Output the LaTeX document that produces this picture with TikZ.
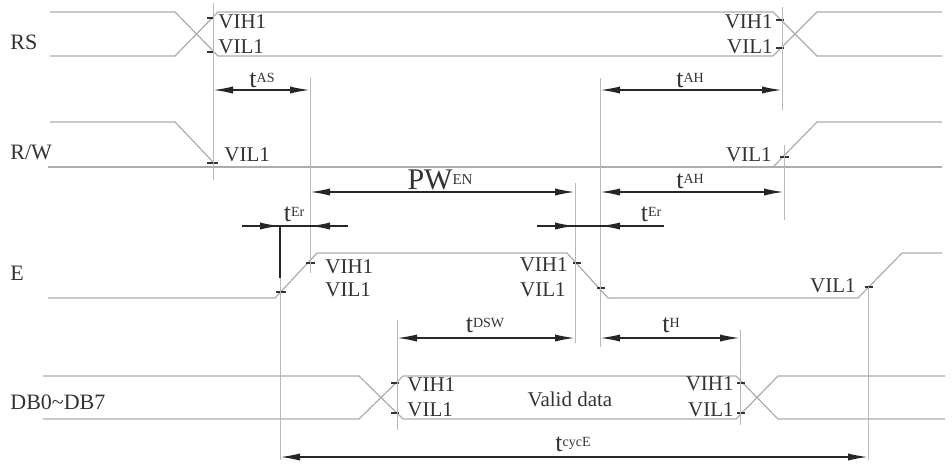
\documentclass[tikz,border=0pt]{standalone}
\usepackage{fontspec}
\setmainfont{Liberation Serif}
\usetikzlibrary{arrows.meta}

\tikzset{
  sig/.style={gray!65, line width=0.6pt},
  guide/.style={gray!55, line width=0.5pt},
  tick/.style={black!80, line width=0.6pt},
  dim/.style={black!85, line width=0.8pt},
  tip/.style={-{Latex[length=10pt,width=3.6pt]}},
  dimboth/.style={dim, {Latex[length=10pt,width=3.6pt]}-{Latex[length=10pt,width=3.6pt]}},
  lvl/.style={font=\fontsize{10.5}{11}\selectfont, text=black!80, inner sep=0pt},
  sname/.style={font=\fontsize{11}{12}\selectfont, text=black!80, inner sep=0pt, anchor=west},
}
\newcommand\tsym[1]{{\fontsize{13}{13}\selectfont t}{\fontsize{7}{7}\selectfont\raisebox{0.7ex}{#1}}}

\begin{document}
\begin{tikzpicture}[x=0.5pt,y=-0.5pt]
\useasboundingbox (0,0) rectangle (952,472);
%% signal names
\node[sname] (nRS) at (10,42) {RS};
\node[sname] (nRW) at (10,152) {R/W};
\node[sname] (nE) at (10,273) {E};
\node[sname] (nDB) at (10,402) {DB0\textasciitilde DB7};

%% RS
\draw[sig] (50,12) -- (175,12) -- (218,56) -- (773,56) -- (817,12) -- (942,12);
\draw[sig] (50,56) -- (175,56) -- (218,12) -- (773,12) -- (817,56) -- (942,56);
\draw[tick] (207,18) -- (214,18);
\draw[tick] (207,52) -- (214,52);
\draw[tick] (776,20) -- (784,20);
\draw[tick] (776,48) -- (784,48);
\node[lvl,anchor=west] (rsh1) at (218,22) {VIH1};
\node[lvl,anchor=west] (rsl1) at (218,47) {VIL1};
\node[lvl,anchor=east] (rsh2) at (773,22) {VIH1};
\node[lvl,anchor=east] (rsl2) at (773,47) {VIL1};

%% R/W
\draw[sig] (50,122) -- (175,122) -- (213,162);
\draw[sig] (48,167) -- (942,167);
\draw[sig] (773,167) -- (817,122) -- (942,122);
\draw[tick] (207,163) -- (218,163);
\draw[tick] (780,157) -- (789,157);
\node[lvl,anchor=west] (rwl1) at (224,155) {VIL1};
\node[lvl,anchor=east] (rwl2) at (772,155) {VIL1};

%% E
\draw[sig] (48,298) -- (275,298) -- (317,253) -- (567,253) -- (608,298) -- (858,298) -- (902,253) -- (942,253);
\draw[tick] (276,292) -- (286,292);
\draw[tick] (306,263) -- (315,263);
\draw[tick] (573,263) -- (581,263);
\draw[tick] (597,288) -- (605,288);
\draw[tick] (865,287) -- (873,287);
\node[lvl,anchor=west] (eh1) at (325,267) {VIH1};
\node[lvl,anchor=west] (el1) at (325,290) {VIL1};
\node[lvl,anchor=east] (eh2) at (568,265) {VIH1};
\node[lvl,anchor=east] (el2) at (566,290) {VIL1};
\node[lvl,anchor=east] (el3) at (856,286) {VIL1};

%% DB0~DB7
\draw[sig] (43,376) -- (359,376) -- (403,419) -- (736,419) -- (778,376) -- (945,376);
\draw[sig] (43,419) -- (359,419) -- (403,376) -- (736,376) -- (778,419) -- (945,419);
\draw[tick] (391,383) -- (399,383);
\draw[tick] (391,413) -- (399,413);
\draw[tick] (737,383) -- (745,383);
\draw[tick] (737,413) -- (745,413);
\node[lvl,anchor=west] (dh1) at (407,385) {VIH1};
\node[lvl,anchor=west] (dl1) at (407,410) {VIL1};
\node[lvl,anchor=east] (dh2) at (734,384) {VIH1};
\node[lvl,anchor=east] (dl2) at (734,410) {VIL1};
\node[lvl] (valid) at (570,399) {Valid data};

%% extension lines
\draw[guide] (213,3) -- (213,180);
\draw[guide] (310,78) -- (310,273);
\draw[guide] (782,7) -- (782,110);
\draw[guide] (784,145) -- (784,220);
\draw[guide] (600,78) -- (600,347);
\draw[guide] (575,183) -- (575,343);
\draw[guide] (280,278) -- (280,460);
\draw[dim] (280,226) -- (280,278);
\draw[guide] (397,320) -- (397,430);
\draw[guide] (740,330) -- (740,425);
\draw[guide] (868,287) -- (868,460);

%% timing arrows
\draw[dimboth] (213,90) -- (310,90);
\node[lvl] (tas) at (262,80) {\tsym{AS}};
\draw[dimboth] (600,90) -- (782,90);
\node[lvl] (tah1) at (690,80) {\tsym{AH}};
\draw[dimboth] (310,192) -- (575,192);
\node[lvl] (pw) at (440,180) {{\fontsize{15}{15}\selectfont PW}{\fontsize{7.5}{7.5}\selectfont\raisebox{0.7ex}{EN}}};
\draw[dimboth] (600,192) -- (784,192);
\node[lvl] (tah2) at (690,181) {\tsym{AH}};
\draw[dim] (242,226) -- (348,226);
\draw[dim,tip] (250,226) -- (280,226);
\draw[dim,tip] (340,226) -- (310,226);
\node[lvl] (ter1) at (294,214) {\tsym{Er}};
\draw[dim] (537,226) -- (664,226);
\draw[dim,tip] (545,226) -- (575,226);
\draw[dim,tip] (630,226) -- (600,226);
\node[lvl] (ter2) at (651,214) {\tsym{Er}};
\draw[dimboth] (397,338) -- (575,338);
\node[lvl] (tdsw) at (485,325) {\tsym{DSW}};
\draw[dimboth] (600,338) -- (740,338);
\node[lvl] (th) at (671,325) {\tsym{H}};
\draw[dimboth] (280,457) -- (868,457);
\node[lvl] (tcyc) at (573,444) {\tsym{cycE}};
\end{tikzpicture}
\end{document}
